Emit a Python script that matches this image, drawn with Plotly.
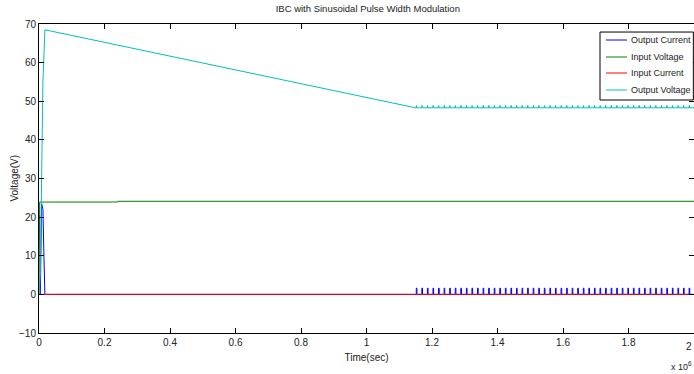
import plotly.graph_objects as go

# ---- data (time in units of the x-axis) ----
pulse_times = [1.152, 1.169, 1.186, 1.203, 1.220, 1.237, 1.254, 1.271, 1.288, 1.305,
               1.322, 1.339, 1.356, 1.373, 1.390, 1.407, 1.424, 1.441, 1.458, 1.475,
               1.492, 1.509, 1.526, 1.543, 1.560, 1.577, 1.594, 1.611, 1.628, 1.645,
               1.662, 1.679, 1.696, 1.713, 1.730, 1.747, 1.764, 1.781, 1.798, 1.815,
               1.832, 1.849, 1.866, 1.883, 1.900, 1.917, 1.934, 1.951, 1.968, 1.985]
pulse_current_peak = 1.6
ov_ripple_peak = 48.9

oc_start_t = [0.0, 0.004, 0.008, 0.012, 0.015, 0.018, 0.03, 1.15]
oc_start_v = [0.0, 0.0, 23.5, 22.0, 10.0, 0.0, 0.0, 0.0]

iv_t = [0.0, 0.002, 0.24, 0.24, 2.0]
iv_v = [0.0, 23.9, 23.9, 24.1, 24.1]

ic_t = [0.0, 2.0]
ic_v = [0.0, 0.0]

ov_start_t = [0.0, 0.004, 0.012, 0.018, 1.15]
ov_start_v = [0.0, 5.0, 55.0, 68.5, 48.3]
ov_flat = 48.3

series_names = ["Output Current", "Input Voltage", "Input Current", "Output Voltage"]
series_colors = ["#0000ff", "#008000", "#ff0000", "#00bfbf"]

x_ticks = [0, 0.2, 0.4, 0.6, 0.8, 1.0, 1.2, 1.4, 1.6, 1.8, 2.0]
x_tick_labels = ["0", "0.2", "0.4", "0.6", "0.8", "1", "1.2", "1.4", "1.6", "1.8", "2"]
y_ticks = [-10, 0, 10, 20, 30, 40, 50, 60, 70]

# ---- build series from the data ----
oc_t = list(oc_start_t)
oc_v = list(oc_start_v)
for t in pulse_times:
    oc_t += [t, t, t + 0.002, t + 0.002]
    oc_v += [0.0, pulse_current_peak, pulse_current_peak, 0.0]
oc_t.append(2.0)
oc_v.append(0.0)

ov_t = list(ov_start_t)
ov_v = list(ov_start_v)
for t in pulse_times:
    ov_t += [t, t, t + 0.001, t + 0.001]
    ov_v += [ov_flat, ov_ripple_peak, ov_ripple_peak, ov_flat]
ov_t.append(2.0)
ov_v.append(ov_flat)

series_xy = [(oc_t, oc_v), (iv_t, iv_v), (ic_t, ic_v), (ov_t, ov_v)]

FONT = "Liberation Sans, Arial, sans-serif"

fig = go.Figure()
for (xs, ys), name, col in zip(series_xy, series_names, series_colors):
    fig.add_trace(go.Scatter(x=xs, y=ys, mode="lines", name=name,
                             line=dict(color=col, width=1), showlegend=False))

fig.update_layout(
    width=694, height=374,
    margin=dict(l=39, r=0, t=24, b=41),
    paper_bgcolor="white", plot_bgcolor="white",
    font=dict(family=FONT, size=10, color="#222"),
    title=dict(text="IBC with Sinusoidal Pulse Width Modulation",
               x=0.53, xanchor="center", y=0.985, yanchor="top",
               font=dict(family=FONT, size=9.5, color="#222")),
    showlegend=False,
    xaxis=dict(range=[0, 2], tickvals=x_ticks, ticktext=x_tick_labels,
               showgrid=False, zeroline=False, showline=True, linecolor="black",
               linewidth=1, mirror="ticks", ticks="inside", ticklen=5,
               tickcolor="black",
               title=dict(text="Time(sec)", standoff=6,
                          font=dict(family=FONT, size=10))),
    yaxis=dict(range=[-10, 70], tickvals=y_ticks,
               showgrid=False, zeroline=False, showline=True, linecolor="black",
               linewidth=1, mirror="ticks", ticks="inside", ticklen=5,
               tickcolor="black"),
)

# ---- legend box drawn like the MATLAB legend ----
lg_x0, lg_x1, lg_y0, lg_y1 = 0.8565, 0.999, 0.754, 0.974
fig.add_shape(type="rect", xref="paper", yref="paper",
              x0=lg_x0, x1=lg_x1, y0=lg_y0, y1=lg_y1,
              line=dict(color="black", width=1), fillcolor="white", layer="above")
row_y = [0.9482, 0.8932, 0.8414, 0.7864]
for name, col, yy in zip(series_names, series_colors, row_y):
    fig.add_shape(type="line", xref="paper", yref="paper",
                  x0=0.8656, x1=0.8977, y0=yy, y1=yy,
                  line=dict(color=col, width=1), layer="above")
    fig.add_annotation(text=name, xref="paper", yref="paper",
                       x=0.9000, y=yy, xanchor="left", yanchor="middle",
                       showarrow=False,
                       font=dict(family=FONT, size=9, color="#222"))

# y-axis title placed as in the reference
fig.add_annotation(text="Voltage(V)", xref="paper", yref="paper",
                   x=-0.038, y=0.5, xanchor="center", yanchor="middle",
                   textangle=-90, showarrow=False,
                   font=dict(family=FONT, size=10, color="#222"))

# last x tick label (sits at the very right edge)
fig.add_annotation(text="2", xref="paper", yref="paper",
                   x=1.0, y=-0.018, xanchor="right", yanchor="top",
                   showarrow=False, font=dict(family=FONT, size=10, color="#222"))

fig.add_annotation(text="x 10<sup>6</sup>", xref="paper", yref="paper",
                   x=1.0, y=-0.08, xanchor="right", yanchor="top",
                   showarrow=False, font=dict(family=FONT, size=9, color="#222"))

fig.write_html("out.html")
